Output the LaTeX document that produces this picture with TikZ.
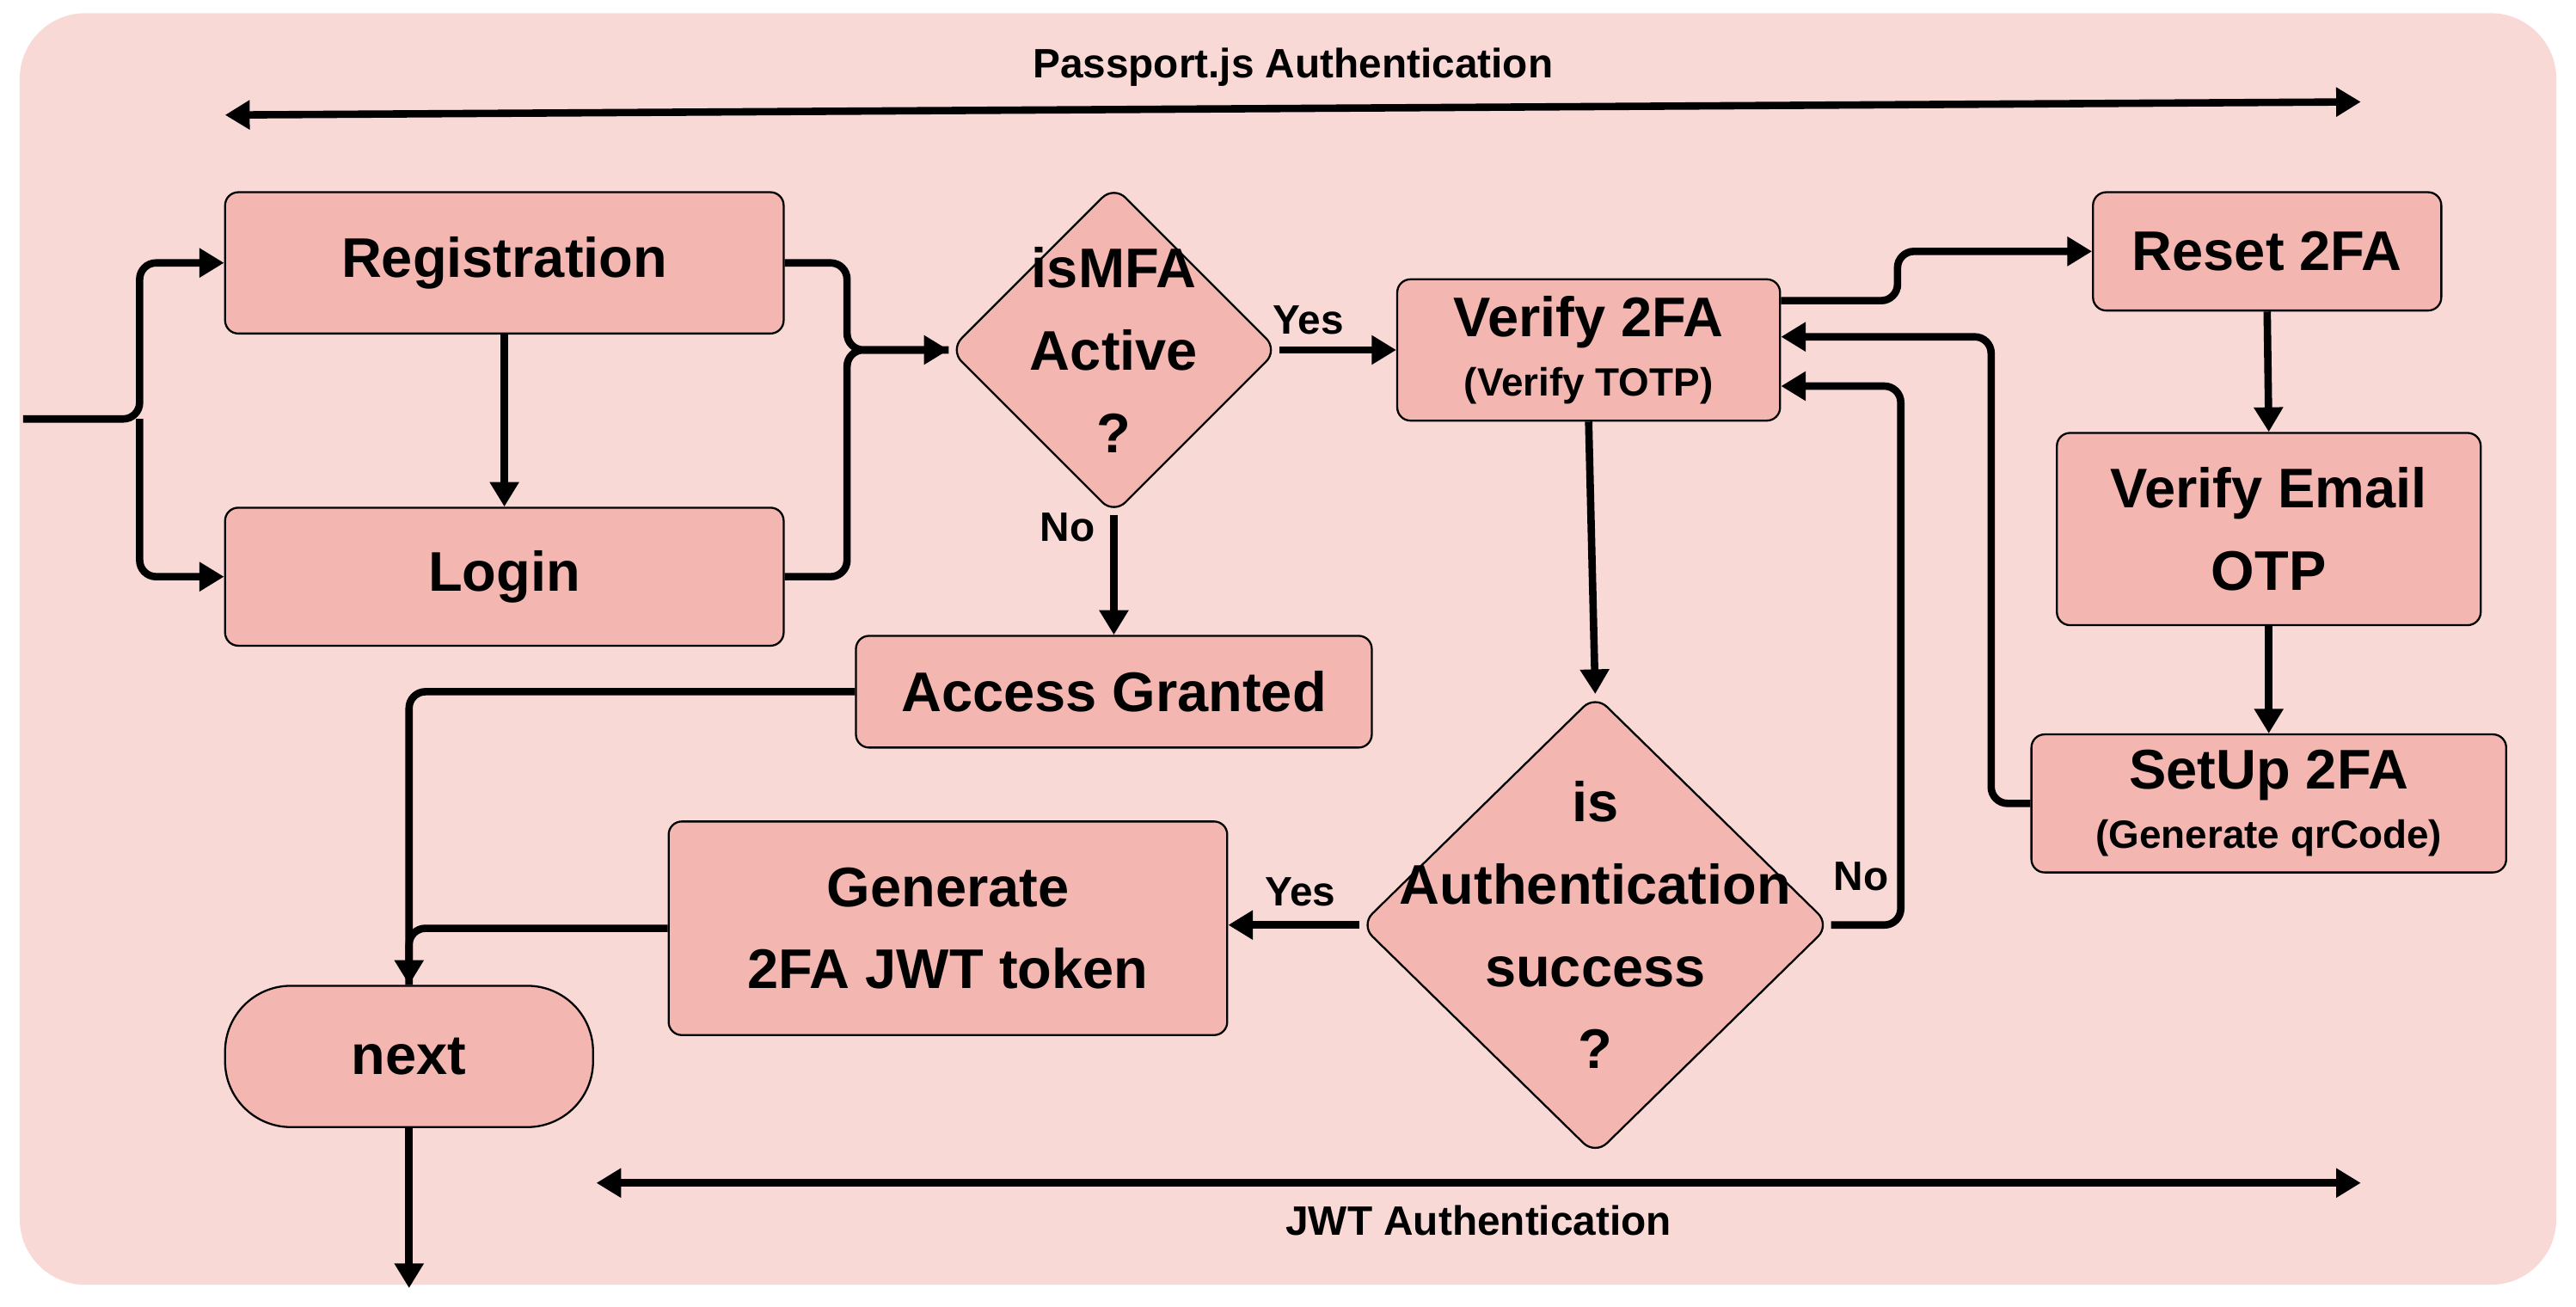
\documentclass[tikz,border=0pt]{standalone}
\usepackage{fontspec}
\setmainfont{Liberation Sans}
\usetikzlibrary{arrows.meta,shapes.geometric}
\definecolor{bgpink}{HTML}{F8D9D6}
\definecolor{boxpink}{HTML}{F4B6B0}
\newcommand{\bigtxt}{\fontsize{34}{50}\selectfont\bfseries}
\newcommand{\subtxt}{\fontsize{24}{28}\selectfont\bfseries}
\newcommand{\lbl}{\fontsize{25}{29}\selectfont\bfseries}

\begin{document}
\begin{tikzpicture}[x=1pt,y=-1pt,
                    box/.style={draw,line width=1.2pt,fill=boxpink,rounded corners=8pt,align=center,inner sep=0pt,font=\bigtxt},
                    decision/.style={draw,line width=1.2pt,fill=boxpink,diamond,rounded corners=10pt,inner sep=0pt},
                    flow/.style={line width=4.5pt,rounded corners=10pt,-{Triangle[length=15pt,width=17pt]}},
                    link/.style={line width=4.5pt,rounded corners=10pt}]
                    \useasboundingbox (0,0) rectangle (1568,795);
                    \fill [bgpink,rounded corners=40pt] (12,8) rectangle (1556,782);
                    \node [box,minimum width=340pt,minimum height=86pt] (reg) at (307,160) {Registration};
                    \node [box,minimum width=340pt,minimum height=84pt] (login) at (307,351) {Login};
                    \node [decision,minimum width=200pt,minimum height=200pt] (mfa) at (678,213) {};
                    \node [align=center,font=\bigtxt] (mfatxt) at (mfa) {isMFA\\Active\\?};
                    \node [box,minimum width=233pt,minimum height=86pt] (verify) at (967,213) {Verify 2FA\\[-14pt]\subtxt (Verify TOTP)};
                    \node [box,minimum width=212pt,minimum height=72pt] (reset) at (1380,153) {Reset 2FA};
                    \node [box,minimum width=258pt,minimum height=117pt] (email) at (1381,322) {Verify Email\\OTP};
                    \node [box,minimum width=289pt,minimum height=84pt] (setup) at (1381,489) {SetUp 2FA\\[-14pt]\subtxt (Generate qrCode)};
                    \node [box,minimum width=314pt,minimum height=68pt] (access) at (678,421) {Access Granted};
                    \node [decision,minimum width=286pt,minimum height=280pt] (auth) at (971,563) {};
                    \node [align=center,font=\bigtxt] (authtxt) at (auth) {is\\Authentication\\success\\?};
                    \node [box,minimum width=340pt,minimum height=130pt] (jwt) at (577,565) {Generate\\2FA JWT token};
                    \node [box,rounded corners=40pt,minimum width=224pt,minimum height=86pt] (next) at (249,643) {next};
                    \coordinate (start) at (14,255);
                    \coordinate (fork) at (85,255);
                    \coordinate (out) at (249,784);
                    \draw [line width=4.5pt,{Triangle[length=15pt,width=17pt]}-{Triangle[length=15pt,width=17pt]}] (137,70) -- (1437,62) node [midway,above=8pt] {\lbl Passport.js Authentication};
                    \draw [line width=4.5pt,{Triangle[length=15pt,width=17pt]}-{Triangle[length=15pt,width=17pt]}] (363,720) -- (1437,720) node [midway,below=8pt] {\lbl JWT Authentication};
                    \draw [flow] (start) -- (fork) |- (reg.west);
                    \draw [flow] (fork) |- (login.west);
                    \draw [flow] (reg.south) -- (login.north);
                    \draw [flow] (reg.east) -- ++(38,0) |- (mfa.west);
                    \draw [link] (login.east) -- ++(38,0) |- (mfa.west);
                    \draw [flow] (mfa.east) -- (verify.west) node [pos=0.25,above=4pt] {\lbl Yes};
                    \draw [flow] (mfa.south) -- (access.north) node [pos=0.1,left=6pt] {\lbl No};
                    \draw [flow] (verify.east |- 0,183) -- (1155,183) |- (reset.west);
                    \draw [flow] (reset.south) -- (email.north);
                    \draw [flow] (email.south) -- (setup.north);
                    \draw [flow] (setup.west) -- (1212,489) |- (verify.east |- 0,205);
                    \draw [flow] (verify.south) -- (auth.north);
                    \draw [flow] (auth.east) -- (1157,563) |- (verify.east |- 0,235) node [pos=0.02,above left=2pt] {\lbl No};
                    \draw [flow] (auth.west) -- (jwt.east |- auth.west) node [pos=0.45,above=6pt] {\lbl Yes};
                    \draw [flow] (access.west) -| (next.north);
                    \draw [link] (jwt.west) -| (next.north);
                    \draw [flow] (next.south) -- (out);
                \end{tikzpicture}
\end{document}
